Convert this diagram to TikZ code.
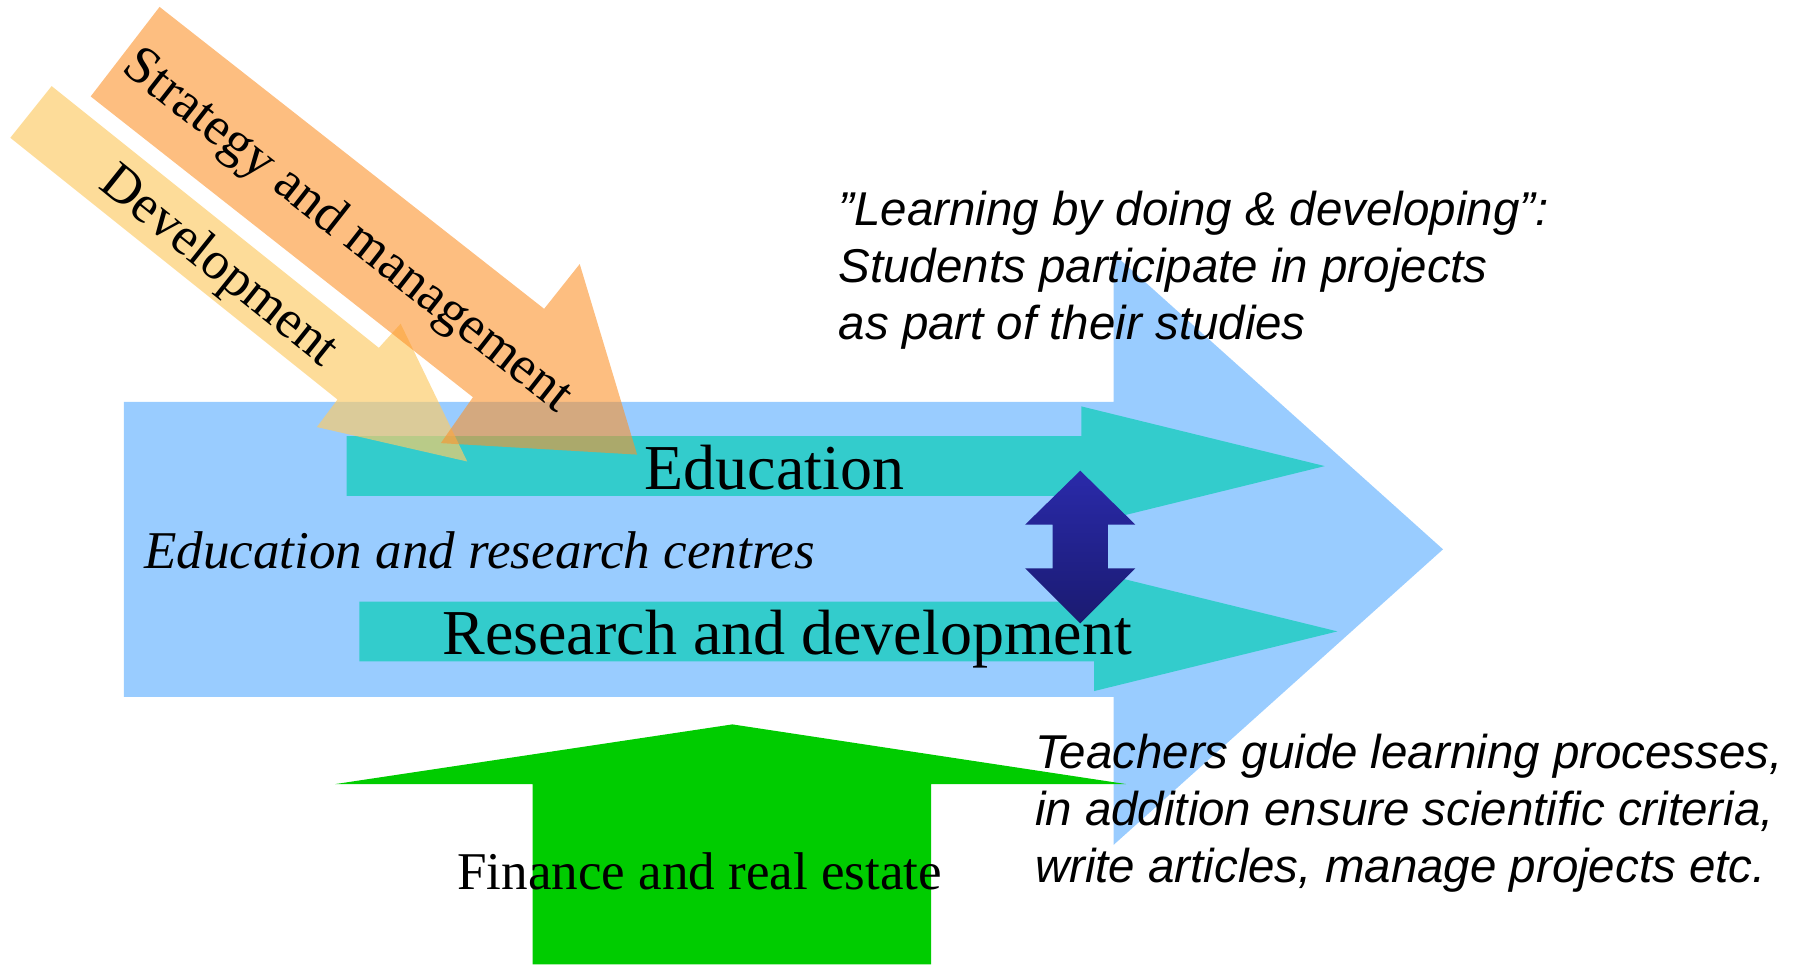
\documentclass[tikz,border=0pt]{standalone}
\usepackage{fontspec}
\setmainfont{Liberation Serif}
\setsansfont{Liberation Sans}
\usepackage{xcolor}
\usepackage{tikz}
\definecolor{sky}{HTML}{99CCFF}
\definecolor{lanec}{HTML}{33CCCC}
\definecolor{grass}{HTML}{00CC00}
\definecolor{peach}{HTML}{FC932B}
\definecolor{sand}{HTML}{FCCB67}
\definecolor{ink}{HTML}{2A2AAA}
\definecolor{inkdk}{HTML}{1A1A70}
\tikzset{
  flow/.style={fill=sky},
  lane/.style={fill=lanec},
  push/.style={fill=grass},
  strat/.style={fill=peach, fill opacity=0.6},
  devel/.style={fill=sand, fill opacity=0.67},
  link/.style={top color=ink, bottom color=inkdk},
  lab/.style={text=black, font=\fontsize{18.2}{22}\selectfont, inner sep=0pt},
  labi/.style={text=black, font=\itshape\fontsize{15.1}{18}\selectfont, inner sep=0pt},
  labr/.style={text=black, font=\fontsize{15.2}{18}\selectfont, inner sep=0pt},
  labf/.style={text=black, font=\fontsize{15.1}{18}\selectfont, inner sep=0pt},
  note/.style={text=black, font=\sffamily\itshape\fontsize{13.5}{16.3}\selectfont, align=left, inner sep=0pt},
}
\begin{document}
\begin{tikzpicture}[x=0.01148cm, y=-0.01148cm]
  \useasboundingbox (0,0) rectangle (1568,840);
  \fill[flow] (108,350) -- (970,350) -- (970,221) -- (1257,478.5) -- (970,736) -- (970,607) -- (108,607) -- cycle;
  \fill[lane] (302,380) -- (942,380) -- (942,354) -- (1154,406) -- (942,458) -- (942,432) -- (302,432) -- cycle;
  \fill[lane] (313,524) -- (953,524) -- (953,498) -- (1165,550) -- (953,602) -- (953,576) -- (313,576) -- cycle;

  \fill[devel] (45,75) -- (330,303) -- (349,282) -- (407,402) -- (276,372) -- (294,348) -- (9,120) -- cycle;
  \fill[strat] (139,6) -- (474,269) -- (505,230) -- (555,396) -- (384,386) -- (412,346) -- (79,84) -- cycle;
  \node[labr, rotate=-38.7] (dev) at (190,233) {Development};
  \node[labr, rotate=-38.1] (strategy) at (302,202) {Strategy and management};

  \shade[link] (941,410) -- (989,457) -- (965,457) -- (965,495) -- (989,495) -- (941,543)
    -- (893,495) -- (917,495) -- (917,457) -- (893,457) -- cycle;

  \fill[push] (638,631) -- (981,683) -- (811,683) -- (811,840) -- (464,840) -- (464,683) -- (292,683) -- cycle;

  \node[lab, anchor=base] (edu) at (674.6,426.3) {Education};
  \node[lab, anchor=base] (rnd) at (685.8,569.7) {Research and development};
  \node[labi, anchor=base west] (centres) at (125,495) {Education and research centres};
  \node[labf, anchor=base] (finance) at (609.5,775) {Finance and real estate};
  \node[note, anchor=base west] (learning) at (730,296) {”Learning by doing \& developing”:\\Students participate in projects\\as part of their studies};
  \node[note, anchor=base west] (teachers) at (901,769) {Teachers guide learning processes,\\in addition ensure scientific criteria,\\write articles, manage projects etc.};
\end{tikzpicture}
\end{document}
